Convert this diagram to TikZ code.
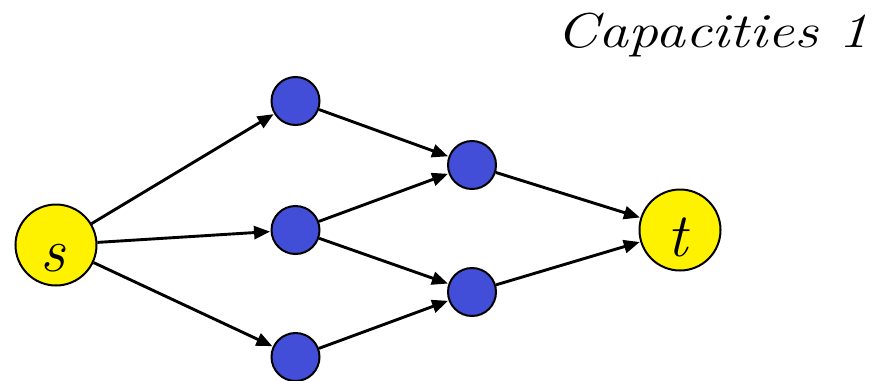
\documentclass[tikz,border=0pt]{standalone}
\usetikzlibrary{arrows.meta}
\definecolor{nodeblue}{RGB}{66,78,216}
\begin{document}
\begin{tikzpicture}[x=1pt,y=-1pt,
  term/.style={circle,draw=black,line width=2pt,fill=yellow,minimum size=81pt,inner sep=0pt,text height=52pt,text depth=0pt,font=\fontsize{62}{66}\selectfont\itshape},
  inner/.style={circle,draw=black,line width=2pt,fill=nodeblue,minimum size=48pt,inner sep=0pt},
  edge/.style={line width=2.9pt,-{Triangle[length=16pt,width=13pt]},shorten >=0.5pt}]
\useasboundingbox (0,0) rectangle (882,380);
\node[term] (s) at (56,245) {\hspace*{-6pt}s};
\node[term] (t) at (680,230) {\hspace*{-4pt}t};
\node[inner] (a) at (295.5,101) {};
\node[inner] (b) at (295.5,230) {};
\node[inner] (c) at (295.5,357) {};
\node[inner] (d) at (472,165) {};
\node[inner] (e) at (472,292) {};
\node[anchor=base east,inner sep=0pt,font=\fontsize{49}{53}\selectfont\itshape] (cap) at (869,47) {\scalebox{1.22}[1]{Capacities 1}};
\draw[edge] (s) -- (a);
\draw[edge] (s) -- (b);
\draw[edge] (s) -- (c);
\draw[edge] (a) -- (d);
\draw[edge] (b) -- (d);
\draw[edge] (b) -- (e);
\draw[edge] (c) -- (e);
\draw[edge] (d) -- (t);
\draw[edge] (e) -- (t);
\end{tikzpicture}
\end{document}
